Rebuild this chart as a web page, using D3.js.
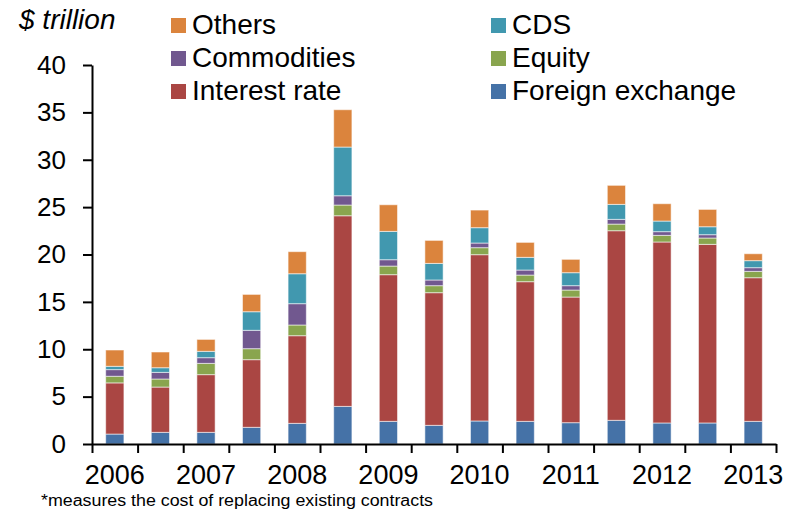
<!DOCTYPE html>
<html>
<head>
<meta charset="utf-8">
<script src="https://cdn.jsdelivr.net/npm/d3@7"></script>
<style>
  html, body { margin: 0; padding: 0; background: #fff; }
  svg { display: block; font-family: "Liberation Sans", Arial, sans-serif; }
</style>
</head>
<body>
<svg id="chart" width="798" height="514"></svg>
<script>
// Half-year periods, 2006 H1 .. 2013 H1
const periods = ["2006 H1","2006 H2","2007 H1","2007 H2","2008 H1","2008 H2","2009 H1","2009 H2",
                 "2010 H1","2010 H2","2011 H1","2011 H2","2012 H1","2012 H2","2013 H1"];

// Gross market value by risk category, $ trillion
const foreignExchange = [1.05, 1.23, 1.23, 1.76, 2.18, 3.97, 2.39, 1.97, 2.43, 2.39, 2.25, 2.50, 2.22, 2.22, 2.39];
const interestRate    = [5.40, 4.78, 6.09, 7.14, 9.25, 20.12, 15.48, 14.00, 17.55, 14.74, 13.26, 20.01, 19.10, 18.85, 15.16];
const equity          = [0.70, 0.85, 1.19, 1.16, 1.13, 1.13, 0.91, 0.74, 0.74, 0.70, 0.74, 0.70, 0.70, 0.67, 0.67];
const commodities     = [0.70, 0.70, 0.60, 1.94, 2.25, 0.98, 0.67, 0.60, 0.49, 0.53, 0.46, 0.50, 0.39, 0.35, 0.39];
const cds             = [0.35, 0.49, 0.67, 1.96, 3.16, 5.14, 2.99, 1.75, 1.62, 1.34, 1.37, 1.58, 1.12, 0.84, 0.74];
const others          = [1.72, 1.66, 1.26, 1.83, 2.33, 3.94, 2.81, 2.43, 1.86, 1.58, 1.41, 2.01, 1.83, 1.83, 0.73];

const yTicks = [0, 5, 10, 15, 20, 25, 30, 35, 40];
const yearLabels = ["2006", "2007", "2008", "2009", "2010", "2011", "2012", "2013"];

// Stack order bottom -> top
const series = [
  { key: "Foreign exchange", values: foreignExchange, color: "#4572A7" },
  { key: "Interest rate",    values: interestRate,    color: "#AA4643" },
  { key: "Equity",           values: equity,          color: "#89A54E" },
  { key: "Commodities",      values: commodities,     color: "#71588F" },
  { key: "CDS",              values: cds,             color: "#4198AF" },
  { key: "Others",           values: others,          color: "#DB843D" }
];

const rows = periods.map((p, i) => {
  const r = { period: p };
  series.forEach(s => { r[s.key] = s.values[i]; });
  return r;
});

const svg = d3.select("#chart");
const plot = { left: 92, right: 776, top: 65, bottom: 444 };

const x = d3.scaleBand().domain(periods).range([plot.left, plot.right]).paddingInner(0.6).paddingOuter(0.3);
const y = d3.scaleLinear().domain([0, 40]).range([plot.bottom, plot.top]);
const color = d3.scaleOrdinal().domain(series.map(s => s.key)).range(series.map(s => s.color));

const stacked = d3.stack().keys(series.map(s => s.key))(rows);

// Bars
svg.append("g").selectAll("g")
  .data(stacked).join("g")
  .attr("fill", d => color(d.key))
  .selectAll("rect")
  .data(d => d).join("rect")
  .attr("x", d => x(d.data.period))
  .attr("width", x.bandwidth())
  .attr("y", d => y(d[1]))
  .attr("height", d => y(d[0]) - y(d[1]))
  .attr("stroke", "rgba(255,255,255,0.55)")
  .attr("stroke-width", 1);

// Y axis
const yAxis = svg.append("g")
  .attr("transform", `translate(${plot.left},0)`)
  .call(d3.axisLeft(y).tickValues(yTicks).tickSize(9).tickSizeOuter(0).tickPadding(17));
yAxis.select(".domain").attr("stroke", "#000").attr("stroke-width", 2);
yAxis.selectAll(".tick line").attr("stroke", "#000").attr("stroke-width", 2);
yAxis.selectAll(".tick text").attr("font-size", 26).attr("fill", "#000")
  .attr("font-family", "Liberation Sans, Arial, sans-serif");

// X axis: ticks at period boundaries
const edge = d3.scaleLinear().domain([0, periods.length]).range([plot.left, plot.right]);
const xAxis = svg.append("g")
  .attr("transform", `translate(0,${plot.bottom})`)
  .call(d3.axisBottom(edge).tickValues(d3.range(periods.length + 1)).tickFormat("").tickSize(9).tickSizeOuter(0));
xAxis.select(".domain").attr("stroke", "#000").attr("stroke-width", 2);
xAxis.selectAll(".tick line").attr("stroke", "#000").attr("stroke-width", 2);

// Year labels under the first half of each year
const xLabels = svg.append("g")
  .attr("transform", `translate(0,${plot.bottom})`)
  .call(d3.axisBottom(x)
    .tickValues(periods.filter(p => p.endsWith("H1")))
    .tickFormat(p => yearLabels[yearLabels.indexOf(p.slice(0, 4))])
    .tickSize(0).tickPadding(21));
xLabels.select(".domain").remove();
xLabels.selectAll(".tick text").attr("font-size", 27).attr("fill", "#000")
  .attr("font-family", "Liberation Sans, Arial, sans-serif");

// Unit label
svg.append("text")
  .attr("x", 19).attr("y", 29)
  .attr("font-size", 28).attr("font-style", "italic")
  .text("$ trillion");

// Legend: two columns, top-down
const legendOrder = [
  ["Others", "CDS"],
  ["Commodities", "Equity"],
  ["Interest rate", "Foreign exchange"]
];
const colX = [171, 491];
legendOrder.forEach((row, ri) => {
  row.forEach((key, ci) => {
    const g = svg.append("g").attr("transform", `translate(${colX[ci]},${18 + ri * 33})`);
    g.append("rect").attr("width", 15).attr("height", 15).attr("fill", color(key));
    g.append("text").attr("x", 21).attr("y", 16).attr("font-size", 28).text(key);
  });
});

// Footnote
svg.append("text")
  .attr("x", 41).attr("y", 506)
  .attr("font-size", 16)
  .attr("textLength", 392).attr("lengthAdjust", "spacingAndGlyphs")
  .text("*measures the cost of replacing existing contracts");
</script>
</body>
</html>
